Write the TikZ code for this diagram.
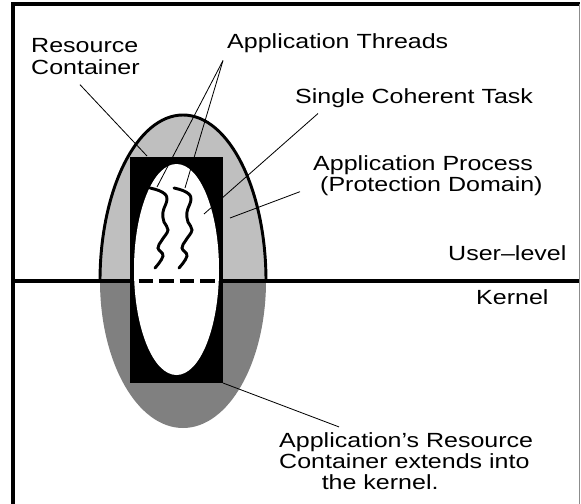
\documentclass[tikz,border=0pt]{standalone}
\usepackage{graphicx}
\usepackage{fontspec}
\setmainfont{Liberation Sans}
\usepackage{tikz}

% wide label text, first baseline on top
\newcommand\lbltext[1]{\scalebox{1.22}[1]{\begin{tabular}[t]{@{}l@{}}#1\end{tabular}}}

\begin{document}
\begin{tikzpicture}[x=0.03cm,y=-0.03cm,
  lbl/.style={inner sep=0pt,anchor=base west,font=\fontsize{17.5}{17.9}\selectfont},
  leader/.style={line width=0.7pt},
  thread/.style={line width=2.5pt,line cap=round}]
\useasboundingbox (0,0) rectangle (581,504);
% Application process, user part and kernel part
\fill[black!25] (100,281) arc[start angle=180,end angle=360,x radius=83,y radius=166] -- cycle;
\fill[black!50] (100,281) arc[start angle=180,end angle=0,x radius=83,y radius=147] -- cycle;
\draw[line width=2.5pt] (100,281) arc[start angle=180,end angle=360,x radius=83,y radius=166];
% Resource container and task
\fill[black] (130,157) rectangle (223,383);
\fill[white] (176.5,269.5) ellipse[x radius=42.5,y radius=105.5];
% Threads
\foreach \dx in {0,24}
  \draw[thread,xshift=\dx*0.03cm] plot[smooth,tension=0.7] coordinates
    {(150,188) (162,192) (167,199) (163,212) (164,222) (168,230) (162,240) (158,248) (163,256) (155,268)};
% User-level / kernel boundary
\draw[line width=3pt] (13,281) -- (134,281);
\draw[line width=3pt] (219,281) -- (579,281);
\draw[line width=3pt,dash pattern=on 12.5pt off 5pt,dash phase=-4pt] (134,281) -- (219,281);
% Frame
\draw[line width=3pt] (13,504) -- (13,4) -- (580,4);
\draw[black!45,line width=1.2pt] (579.5,4) -- (579.5,504);
% Labels
\node[lbl] (rc) at (31,53) {\lbltext{Resource\\Container}};
\node[lbl] (thr) at (227,48) {\lbltext{Application Threads}};
\node[lbl] (sct) at (295,103) {\lbltext{Single Coherent Task}};
\node[lbl] (ap) at (313,170) {\lbltext{Application Process\\\ (Protection Domain)}};
\node[lbl] (ul) at (448,260) {\lbltext{User--level}};
\node[lbl] (kn) at (476,304) {\lbltext{Kernel}};
\node[lbl] (ak) at (279,447) {\lbltext{Application's Resource\\Container extends into\\\hspace*{1.7em}the kernel.}};
% Leader lines
\coordinate (rc-tip) at (147,156);
\coordinate (thr-a) at (157,187);
\coordinate (thr-b) at (185,188);
\coordinate (sct-tip) at (204,214);
\coordinate (ap-tip) at (230,218);
\coordinate (ak-tip) at (223,383);
\draw[leader] ([shift={(49,4)}]rc.south west) -- (rc-tip);
\draw[leader] ([shift={(-4,6)}]thr.south west) -- (thr-a);
\draw[leader] ([shift={(-4,6)}]thr.south west) -- (thr-b);
\draw[leader] ([shift={(23,4)}]sct.south west) -- (sct-tip);
\draw[leader] ([shift={(-13,-6)}]ap.south west) -- (ap-tip);
\draw[leader] ([shift={(60,-5)}]ak.north west) -- (ak-tip);
\end{tikzpicture}
\end{document}
